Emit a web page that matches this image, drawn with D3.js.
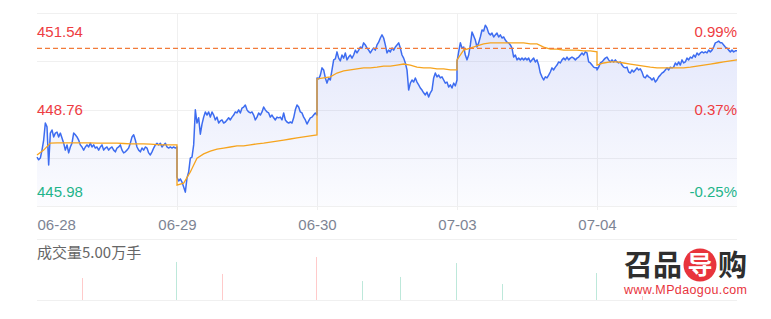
<!DOCTYPE html>
<html lang="zh">
<head>
<meta charset="utf-8">
<title>五日分时</title>
<script src="https://d3js.org/d3.v7.min.js"></script>
<style>
  html, body { margin: 0; padding: 0; background: #fff; }
  svg { display: block; font-family: Arial, "Liberation Sans", "Noto Sans CJK SC", sans-serif; }
</style>
</head>
<body>
<svg id="chart" width="771" height="319"></svg>
<script>
// ---- data ----
var dates = ["06-28", "06-29", "06-30", "07-03", "07-04"];
var priceTicks = [451.54, 448.76, 445.98];      // top, middle, bottom
var pctTicks = ["0.99%", "0.37%", "-0.25%"];
var lastPrice = 450.52;

// price per day, equally spaced through the session
var price0628 = [447.39, 447.31, 447.36, 447.59, 447.88, 448.37, 448.26, 447.16, 448.08, 448.17,
  447.97, 448.08, 448.11, 447.97, 448.08, 447.94, 447.79, 447.59, 447.74, 447.51,
  447.68, 447.79, 448.08, 448.03, 447.97, 447.88, 447.74, 447.68, 447.59, 447.68,
  447.74, 447.68, 447.79, 447.68, 447.74, 447.65, 447.68, 447.59, 447.68, 447.74,
  447.59, 447.65, 447.68, 447.59, 447.65, 447.68, 447.59, 447.54, 447.65, 447.68,
  447.74, 447.59, 447.51, 447.54, 447.59, 447.65, 447.79, 447.97, 448.03, 447.88,
  447.68, 447.59, 447.54, 447.65, 447.59, 447.68, 447.65, 447.51, 447.45, 447.54,
  447.65, 447.74, 447.79, 447.74, 447.79, 447.68, 447.74, 447.79, 447.68, 447.65,
  447.68, 447.65, 447.68, 447.65, 447.68];
var price0629 = [446.81, 446.70, 446.76, 446.67, 446.53, 446.38, 446.79, 446.96, 447.36, 447.39,
  447.74, 448.75, 448.37, 448.52, 448.05, 448.34, 448.54, 448.69, 448.60, 448.69,
  448.54, 448.69, 448.60, 448.46, 448.54, 448.37, 448.43, 448.46, 448.37, 448.40,
  448.46, 448.52, 448.46, 448.54, 448.60, 448.69, 448.66, 448.75, 448.66, 448.80,
  448.83, 448.89, 448.75, 448.69, 448.66, 448.69, 448.60, 448.46, 448.54, 448.66,
  448.60, 448.69, 448.83, 448.75, 448.69, 448.66, 448.54, 448.60, 448.52, 448.46,
  448.54, 448.52, 448.54, 448.46, 448.66, 448.46, 448.40, 448.37, 448.40, 448.37,
  448.52, 448.75, 448.89, 448.83, 448.69, 448.66, 448.54, 448.46, 448.34, 448.43,
  448.52, 448.54, 448.60, 448.66, 448.60];
var price0630 = [449.67, 449.64, 449.75, 449.96, 449.90, 449.67, 449.52, 449.67, 449.61, 449.90,
  450.19, 450.22, 450.42, 450.24, 450.16, 450.33, 450.24, 450.39, 450.19, 450.27,
  450.33, 450.24, 450.33, 450.47, 450.39, 450.47, 450.56, 450.53, 450.68, 450.62,
  450.53, 450.47, 450.39, 450.47, 450.53, 450.47, 450.62, 450.70, 450.82, 450.91,
  450.82, 450.62, 450.39, 450.47, 450.42, 450.53, 450.47, 450.56, 450.62, 450.68,
  450.53, 450.33, 450.24, 450.10, 449.90, 449.32, 449.52, 449.61, 449.55, 449.67,
  449.55, 449.47, 449.38, 449.32, 449.24, 449.18, 449.26, 449.12, 449.24, 449.32,
  449.67, 449.81, 449.70, 449.75, 449.67, 449.70, 449.61, 449.52, 449.55, 449.41,
  449.47, 449.38, 449.52, 449.44, 449.61];
var price0703 = [450.13, 450.42, 450.68, 450.53, 450.56, 450.33, 450.19, 450.33, 450.62, 450.99,
  450.88, 450.76, 450.56, 450.68, 450.85, 451.05, 451.02, 451.19, 451.11, 450.96,
  450.91, 450.96, 450.85, 450.91, 450.96, 450.85, 450.91, 450.82, 450.85, 450.76,
  450.70, 450.68, 450.62, 450.53, 450.27, 450.33, 450.19, 450.24, 450.19, 450.24,
  450.19, 450.24, 450.19, 450.24, 450.13, 450.19, 450.24, 450.13, 450.19, 450.04,
  449.81, 449.70, 449.61, 449.70, 449.67, 449.75, 449.84, 449.96, 449.90, 449.98,
  450.04, 450.13, 450.10, 450.19, 450.24, 450.19, 450.27, 450.19, 450.24, 450.27,
  450.24, 450.19, 450.24, 450.27, 450.33, 450.39, 450.33, 450.42, 450.39, 450.13,
  450.10, 450.04, 449.98, 449.96, 449.96];
var price0704 = [449.90, 449.98, 450.10, 450.13, 450.19, 450.24, 450.27, 450.19, 450.13, 450.19,
  450.13, 450.19, 450.13, 450.10, 450.13, 450.04, 449.98, 449.96, 449.98, 449.84,
  449.81, 449.90, 449.84, 449.90, 449.96, 449.90, 449.93, 449.84, 449.70, 449.67,
  449.75, 449.70, 449.67, 449.61, 449.67, 449.55, 449.61, 449.70, 449.75, 449.81,
  449.84, 449.90, 449.96, 449.90, 449.98, 449.96, 449.98, 450.10, 450.04, 450.13,
  450.04, 450.19, 450.10, 450.13, 450.24, 450.19, 450.27, 450.24, 450.33, 450.27,
  450.39, 450.33, 450.39, 450.42, 450.39, 450.42, 450.39, 450.47, 450.42, 450.47,
  450.56, 450.68, 450.70, 450.73, 450.68, 450.68, 450.62, 450.56, 450.53, 450.47,
  450.42, 450.47, 450.42, 450.45, 450.45];

// average price per day
var avg0628 = [447.45, 447.59, 447.79, 447.80, 447.80, 447.80, 447.80, 447.80, 447.80, 447.79, 447.79,
  447.79, 447.79, 447.78, 447.77, 447.77, 447.77, 447.76, 447.75, 447.74, 447.74, 447.74];
var avg0629 = [446.58, 446.64, 446.96, 447.36, 447.48, 447.56, 447.62, 447.65, 447.68, 447.71, 447.71,
  447.74, 447.77, 447.79, 447.82, 447.85, 447.88, 447.91, 447.94, 447.97, 448.00, 448.03];
var avg0630 = [449.64, 449.67, 449.70, 449.81, 449.87, 449.90, 449.93, 449.96, 449.96, 449.98, 450.01,
  450.01, 450.04, 450.07, 450.04, 449.98, 449.96, 449.96, 449.93, 449.93, 449.90, 449.90];
var avg0703 = [450.19, 450.47, 450.53, 450.59, 450.65, 450.68, 450.68, 450.68, 450.68, 450.68, 450.68,
  450.65, 450.65, 450.56, 450.50, 450.50, 450.47, 450.47, 450.47, 450.45, 450.45, 450.42];
var avg0704 = [450.04, 450.10, 450.13, 450.13, 450.10, 450.07, 450.04, 450.01, 449.98, 449.96, 449.96,
  449.96, 449.96, 449.96, 449.98, 450.01, 450.04, 450.07, 450.10, 450.13, 450.16, 450.19];

// volume (万手), day index + minute of a 240 minute session
var volDay = [0, 0, 1, 1, 2, 2, 2, 3, 3, 4];
var volMinute = [77, 238, 77, 238, 77, 142, 238, 77, 239, 77];
var volValue = [1.83, 3.17, 2.17, 3.58, 1.58, 1.92, 3.08, 1.33, 2.25, 0.33];
var volUp = [true, false, true, true, false, false, false, false, false, true];
var volMax = 5.00;

var red = "#ee3c42", green = "#1fb48a";

// ---- layout ----
var svg = d3.select("#chart");
var plotL = 37, plotR = 737, plotT = 13, plotB = 206;
var volT = 240, volB = 300;

var x = d3.scaleLinear().domain([0, dates.length]).range([plotL, plotR]);
var y = d3.scaleLinear().domain([priceTicks[2], priceTicks[0]]).range([plotB, plotT]);
var yv = d3.scaleLinear().domain([0, volMax]).range([volB, volT]);

function toPoints(days) {
  var pts = [];
  days.forEach(function(arr, d) {
    arr.forEach(function(v, i) { pts.push({ t: d + i / (arr.length - 1), v: v }); });
  });
  return pts;
}
var pricePts = toPoints([price0628, price0629, price0630, price0703, price0704]);
var avgPts = toPoints([avg0628, avg0629, avg0630, avg0703, avg0704]);

// gradient for the area
var grad = svg.append("defs").append("linearGradient")
  .attr("id", "fillGrad").attr("gradientUnits", "userSpaceOnUse")
  .attr("x1", 0).attr("x2", 0).attr("y1", plotT).attr("y2", plotB);
grad.append("stop").attr("offset", 0).attr("stop-color", "#4a64e6").attr("stop-opacity", 0.17);
grad.append("stop").attr("offset", 1).attr("stop-color", "#4a64e6").attr("stop-opacity", 0.02);

// grid
var gridVals = d3.range(5).map(function(i) { return priceTicks[2] + i * (priceTicks[0] - priceTicks[2]) / 4; });
svg.append("g").selectAll("line").data(gridVals).enter().append("line")
  .attr("x1", plotL).attr("x2", plotR)
  .attr("y1", function(d) { return Math.round(y(d)) + 0.5; })
  .attr("y2", function(d) { return Math.round(y(d)) + 0.5; })
  .attr("stroke", "#f0f0f0");
svg.append("g").selectAll("line").data([1, 2, 3, 4]).enter().append("line")
  .attr("x1", function(d) { return Math.round(x(d)) + 0.5; })
  .attr("x2", function(d) { return Math.round(x(d)) + 0.5; })
  .attr("y1", plotT).attr("y2", plotB + 4)
  .attr("stroke", "#f0f0f0");

// area + lines
svg.append("path").datum(pricePts)
  .attr("fill", "url(#fillGrad)")
  .attr("d", d3.area().x(function(d) { return x(d.t); }).y0(plotB).y1(function(d) { return y(d.v); }));

svg.append("path").datum(pricePts)
  .attr("fill", "none").attr("stroke", "#3d6cf0").attr("stroke-width", 1.5)
  .attr("stroke-linejoin", "round")
  .attr("d", d3.line().x(function(d) { return x(d.t); }).y(function(d) { return y(d.v); }));

svg.append("path").datum(avgPts)
  .attr("fill", "none").attr("stroke", "#f6a41e").attr("stroke-width", 1.3)
  .attr("d", d3.line().x(function(d) { return x(d.t); }).y(function(d) { return y(d.v); }));

svg.append("line")
  .attr("x1", plotL).attr("x2", plotR)
  .attr("y1", y(lastPrice)).attr("y2", y(lastPrice))
  .attr("stroke", "#f27b3a").attr("stroke-width", 1.2).attr("stroke-dasharray", "5,3");

// price labels (inside plot)
var labelDy = [23.5, 5, -9.5];
var labelColor = [red, red, green];
priceTicks.forEach(function(p, i) {
  svg.append("text").attr("x", plotL).attr("y", y(p) + labelDy[i])
    .attr("font-size", 15).attr("fill", labelColor[i]).text(p.toFixed(2));
  svg.append("text").attr("x", plotR).attr("y", y(p) + labelDy[i])
    .attr("text-anchor", "end").attr("font-size", 15).attr("fill", labelColor[i]).text(pctTicks[i]);
});

// x axis
var xAxis = svg.append("g")
  .attr("transform", "translate(0," + plotB + ")")
  .call(d3.axisBottom(x).tickValues([0, 1, 2, 3, 4])
    .tickFormat(function(d) { return dates[d]; }).tickSize(0).tickPadding(13));
xAxis.select(".domain").remove();
xAxis.selectAll("text")
  .attr("font-size", 15).attr("fill", "#7d8494")
  .style("font-family", "Arial, 'Liberation Sans', sans-serif")
  .attr("text-anchor", function(d) { return d === 0 ? "start" : "middle"; });

// volume section
svg.append("line").attr("x1", plotL).attr("x2", plotR).attr("y1", volT - 0.5).attr("y2", volT - 0.5).attr("stroke", "#f0f0f0");
svg.append("line").attr("x1", plotL).attr("x2", plotR).attr("y1", volB + 0.5).attr("y2", volB + 0.5).attr("stroke", "#f0f0f0");
svg.append("text").attr("x", plotL).attr("y", 258).attr("font-size", 15).attr("fill", "#666")
  .style("font-family", "'Noto Sans CJK SC', Arial, sans-serif")
  .text("成交量" + volMax.toFixed(2) + "万手");

svg.append("g").selectAll("line").data(volValue).enter().append("line")
  .attr("x1", function(d, i) { return Math.round(x(volDay[i] + volMinute[i] / 240)) + 0.5; })
  .attr("x2", function(d, i) { return Math.round(x(volDay[i] + volMinute[i] / 240)) + 0.5; })
  .attr("y1", yv(0)).attr("y2", function(d) { return yv(d); })
  .attr("stroke", function(d, i) { return volUp[i] ? "#ffcaca" : "#bde8da"; })
  .attr("stroke-width", 1);

// watermark
var wm = svg.append("g").style("font-family", "'Noto Sans CJK SC', sans-serif");
wm.append("text").attr("x", 624).attr("y", 276).attr("font-size", 29).attr("font-weight", "bold")
  .attr("fill", "#2e2e2e").text("召品");
wm.append("circle").attr("cx", 700).attr("cy", 265).attr("r", 16.5).attr("fill", "#e8343c");
wm.append("text").attr("x", 700).attr("y", 274).attr("text-anchor", "middle").attr("font-size", 25)
  .attr("font-weight", "bold").attr("fill", "#fff").text("导");
wm.append("text").attr("x", 718).attr("y", 276).attr("font-size", 29).attr("font-weight", "bold")
  .attr("fill", "#2e2e2e").text("购");
wm.append("text").attr("x", 624).attr("y", 294).attr("font-size", 12.5).attr("fill", "#e8343c")
  .style("font-family", "Arial, 'Liberation Sans', sans-serif")
  .attr("textLength", 123).text("www.MPdaogou.com");
</script>
</body>
</html>
